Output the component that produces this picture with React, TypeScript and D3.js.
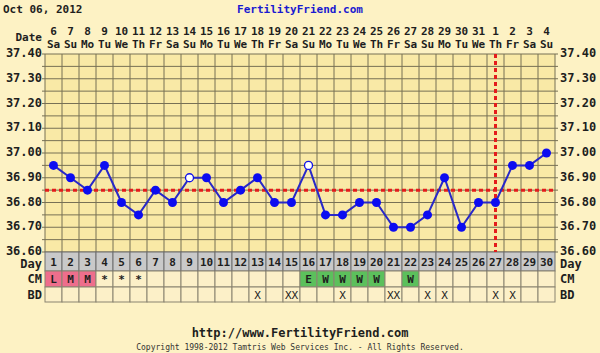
import React from 'react';
import * as d3 from 'd3';

const dates = ['6','7','8','9','10','11','12','13','14','15','16','17','18','19','20','21','22','23','24','25','26','27','28','29','30','31','1','2','3','4'];
const weekdays = ['Sa','Su','Mo','Tu','We','Th','Fr','Sa','Su','Mo','Tu','We','Th','Fr','Sa','Su','Mo','Tu','We','Th','Fr','Sa','Su','Mo','Tu','We','Th','Fr','Sa','Su'];
const temps = [36.95,36.9,36.85,36.95,36.8,36.75,36.85,36.8,36.9,36.9,36.8,36.85,36.9,36.8,36.8,36.95,36.75,36.75,36.8,36.8,36.7,36.7,36.75,36.9,36.7,36.8,36.8,36.95,36.95,37.0];
const openDays = [9, 16];
const cm = ['L','M','M','*','*','*','','','','','','','','','','E','W','W','W','W','','W','','','','','','','',''];
const bd = ['','','','','','','','','','','','','X','','XX','','','X','','','XX','','X','X','','','X','X','',''];
const yTicks = ['36.60','36.70','36.80','36.90','37.00','37.10','37.20','37.30','37.40'];
const coverline = 36.85;
const ovulationDay = 27;

const days = d3.range(1, 31);
const mono = '"DejaVu Sans Mono", monospace';

export default function App() {
  const left = 45, right = 555, top = 54, bottom = 252;
  const x = d3.scaleBand<number>().domain(days).range([left, right]);
  const y = d3.scaleLinear().domain([36.6, 37.4]).range([bottom, top]);
  const cx = (d: number) => (x(d) as number) + x.bandwidth() / 2;
  const grid = d3.range(0, 17).map(i => 36.6 + i * 0.05);
  const line = d3.line<number>().x((_, i) => cx(i + 1)).y(t => y(t));
  const gridColor = '#777055';
  const rows = { day: [252, 271], cm: [271, 287], bd: [287, 302] };
  const ink = '#1e1e1e';

  return (
    <svg width={600} height={353} style={{ position: 'absolute', left: 0, top: 0, background: '#fdf2c4' }}>
      <rect x={0} y={0} width={600} height={353} fill="#fdf2c4" />
      <text x={3} y={13} fontFamily={mono} fontWeight="bold" fontSize={11} fill={ink}>Oct 06, 2012</text>
      <text x={300} y={13} textAnchor="middle" fontFamily={mono} fontWeight="bold" fontSize={11} fill="#1a1ad0">FertilityFriend.com</text>
      <text x={42} y={41} textAnchor="end" fontFamily={mono} fontWeight="bold" fontSize={11} fill={ink}>Date</text>
      {days.map((d, i) => (
        <g key={d}>
          <text x={cx(d)} y={35} textAnchor="middle" fontFamily={mono} fontWeight="bold" fontSize={11} fill={ink}>{dates[i]}</text>
          <text x={cx(d)} y={48} textAnchor="middle" fontFamily={mono} fontWeight="bold" fontSize={11} fill={ink}>{weekdays[i]}</text>
        </g>
      ))}
      <rect x={left} y={top} width={right - left} height={bottom - top} fill="#f9e9a6" />
      {grid.map((g, i) => (
        <line key={i} x1={left - 3} x2={right + 3} y1={y(g)} y2={y(g)} stroke={gridColor} strokeWidth={1} />
      ))}
      {days.map(d => (
        <line key={d} x1={x(d)} x2={x(d)} y1={top} y2={bottom} stroke={gridColor} strokeWidth={1} />
      ))}
      <line x1={right} x2={right} y1={top} y2={bottom} stroke={gridColor} />
      {yTicks.map(t => (
        <g key={t}>
          <text x={42} y={y(+t) + 3} textAnchor="end" fontFamily={mono} fontWeight="bold" fontSize={12} fill={ink}>{t}</text>
          <text x={560} y={y(+t) + 3} fontFamily={mono} fontWeight="bold" fontSize={12} fill={ink}>{t}</text>
        </g>
      ))}
      {/* day / CM / BD rows */}
      {days.map((d, i) => {
        const xx = x(d) as number, w = x.bandwidth();
        const cmFill = i < 3 && cm[i] ? '#ee6e8c' : (cm[i] === 'E' || cm[i] === 'W') ? '#5cc05c' : '#fcf0c8';
        return (
          <g key={d}>
            <rect x={xx} y={rows.day[0]} width={w} height={rows.day[1] - rows.day[0]} fill="#c9c9c9" stroke="#6e6e6e" />
            <text x={xx + w / 2} y={rows.day[0] + 14} textAnchor="middle" fontFamily={mono} fontWeight="bold" fontSize={11} fill={ink}>{d}</text>
            <rect x={xx} y={rows.cm[0]} width={w} height={rows.cm[1] - rows.cm[0]} fill={cmFill} stroke="#8a8470" />
            <text x={xx + w / 2} y={rows.cm[0] + 12} textAnchor="middle" fontFamily={mono} fontWeight="bold" fontSize={11} fill={ink}>{cm[i]}</text>
            <rect x={xx} y={rows.bd[0]} width={w} height={rows.bd[1] - rows.bd[0]} fill="#fcf0c8" stroke="#8a8470" />
            <text x={xx + w / 2} y={rows.bd[0] + 12} textAnchor="middle" fontFamily={mono} fontSize={11} fill={ink}>{bd[i]}</text>
          </g>
        );
      })}
      <text x={42} y={rows.day[0] + 16} textAnchor="end" fontFamily={mono} fontWeight="bold" fontSize={12} fill={ink}>Day</text>
      <text x={560} y={rows.day[0] + 16} fontFamily={mono} fontWeight="bold" fontSize={12} fill={ink}>Day</text>
      <text x={42} y={rows.cm[0] + 12} textAnchor="end" fontFamily={mono} fontWeight="bold" fontSize={12} fill={ink}>CM</text>
      <text x={560} y={rows.cm[0] + 12} fontFamily={mono} fontWeight="bold" fontSize={12} fill={ink}>CM</text>
      <text x={42} y={rows.bd[0] + 12} textAnchor="end" fontFamily={mono} fontWeight="bold" fontSize={12} fill={ink}>BD</text>
      <text x={560} y={rows.bd[0] + 12} fontFamily={mono} fontWeight="bold" fontSize={12} fill={ink}>BD</text>
      {/* coverline and ovulation */}
      <line x1={left} x2={right} y1={y(coverline)} y2={y(coverline)} stroke="#e41c1c" strokeWidth={3} strokeDasharray="4,3" />
      <line x1={cx(ovulationDay)} x2={cx(ovulationDay)} y1={top} y2={bottom} stroke="#e41c1c" strokeWidth={3} strokeDasharray="4,3" />
      <path d={line(temps) || ''} fill="none" stroke="#2828c8" strokeWidth={2} />
      {temps.map((t, i) => openDays.includes(i + 1) ? (
        <circle key={i} cx={cx(i + 1)} cy={y(t)} r={4} fill="#ffffff" stroke="#1010e8" strokeWidth={1.3} />
      ) : (
        <circle key={i} cx={cx(i + 1)} cy={y(t)} r={4.5} fill="#0c0cf0" />
      ))}
      <text x={300} y={337} textAnchor="middle" fontFamily={mono} fontWeight="bold" fontSize={12} fill={ink}>http://www.FertilityFriend.com</text>
      <text x={300} y={350} textAnchor="middle" fontFamily={mono} fontSize={8} fill="#333">Copyright 1998-2012 Tamtris Web Services Inc. - All Rights Reserved.</text>
    </svg>
  );
}
